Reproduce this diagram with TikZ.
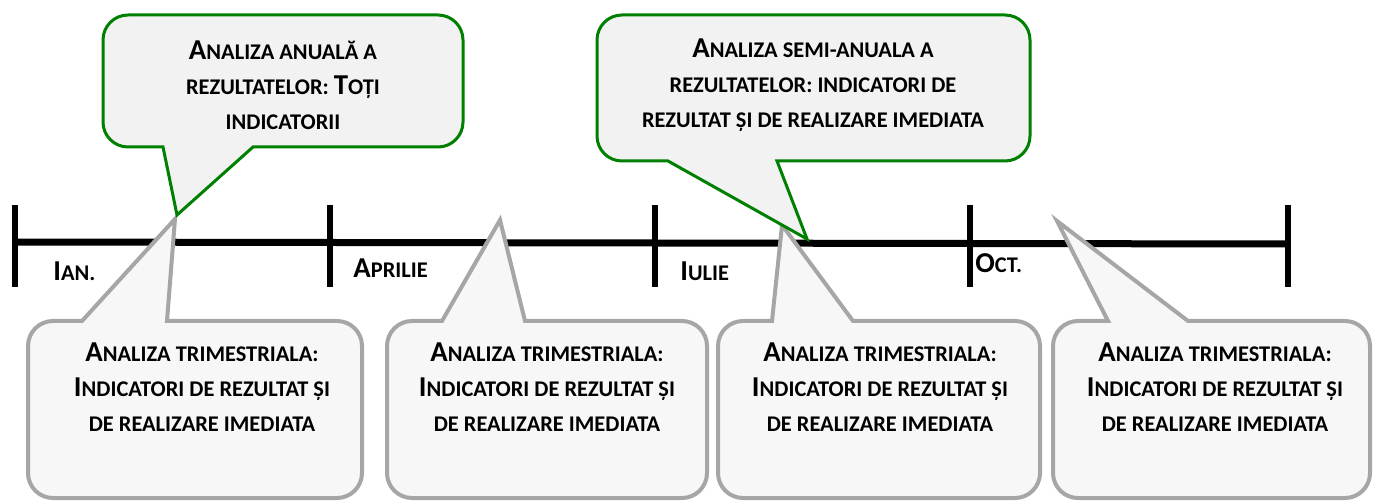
\documentclass[tikz,border=0pt]{standalone}
\usepackage{fontspec}
\setmainfont{Carlito}
\usetikzlibrary{calc}
\definecolor{boxgreen}{RGB}{0,128,0}
\definecolor{greenfill}{RGB}{242,242,242}
\definecolor{graystroke}{RGB}{166,166,166}
\definecolor{grayfill}{RGB}{247,247,247}
\newcommand{\Cap}[1]{{\fontsize{14.4}{17.5}\selectfont #1}} % big first letter
\newcommand{\calloutbelow}[8] % style, left, top, right, bottom, base left x, base right x, tip
{
	% box with the tail on its bottom edge
	\draw[#1] (#7,#5) [rounded corners=12.5pt] -- (#4,#5) -- (#4,#3) -- (#2,#3) -- (#2,#5)
		[sharp corners] -- (#6,#5) -- (#8) -- cycle;
}
\newcommand{\calloutabove}[8] % style, left, top, right, bottom, base left x, base right x, tip
{
	% box with the tail on its top edge
	\draw[#1] (#6,#3) [rounded corners=12.5pt] -- (#2,#3) -- (#2,#5) -- (#4,#5) -- (#4,#3)
		[sharp corners] -- (#7,#3) -- (#8) -- cycle;
}
\tikzset{
	greenbox/.style={draw=boxgreen, fill=greenfill, line width=1.5pt, line join=miter},
	graybox/.style={draw=graystroke, fill=grayfill, line width=2pt, line join=miter},
	txt/.style={font=\fontsize{11.2}{17.5}\selectfont\bfseries, align=center, inner sep=0pt},
	month/.style={font=\fontsize{11.2}{17.5}\selectfont\bfseries, inner sep=0pt, anchor=base west}
}
\begin{document}
\begin{tikzpicture}[x=0.5pt, y=-0.5pt]
	\useasboundingbox (0,0) rectangle (1374,501);
	% time line
	\coordinate (start) at (15,242);
	\coordinate (stop) at (1288,244);
	\draw[line width=3.5pt] (start) -- (stop);
	\foreach \x in {15,330,655,970,1288}
		\draw[line width=3pt] (\x,205) -- (\x,287);

	\node[month] (ian) at (53,281) {\Cap{I}AN.};
	\node[month] (apr) at (353,278) {\Cap{A}PRILIE};
	\node[month] (iul) at (680,281) {\Cap{I}ULIE};
	\node[month] (oct) at (975,273) {\Cap{O}CT.};

	% quarterly reviews
	\calloutabove{graybox}{28}{321}{362}{498}{82}{167}{175,219};
	\calloutabove{graybox}{387}{321}{707}{498}{442}{525}{500,220};
	\calloutabove{graybox}{718}{321}{1040}{498}{772}{853}{782,225};
	\calloutabove{graybox}{1053}{321}{1370}{498}{1108}{1188}{1057,221};

	\node[txt] (q1) at (202,387) {\Cap{A}NALIZA TRIMESTRIALA:\\\Cap{I}NDICATORI DE REZULTAT ȘI\\DE REALIZARE IMEDIATA};
	\node[txt] (q2) at (547,387) {\Cap{A}NALIZA TRIMESTRIALA:\\\Cap{I}NDICATORI DE REZULTAT ȘI\\DE REALIZARE IMEDIATA};
	\node[txt] (q3) at (880,387) {\Cap{A}NALIZA TRIMESTRIALA:\\\Cap{I}NDICATORI DE REZULTAT ȘI\\DE REALIZARE IMEDIATA};
	\node[txt] (q4) at (1215,387) {\Cap{A}NALIZA TRIMESTRIALA:\\\Cap{I}NDICATORI DE REZULTAT ȘI\\DE REALIZARE IMEDIATA};

	% annual and half-year reviews
	\calloutbelow{greenbox}{103}{15}{463}{147}{163}{253}{177,215};
	\calloutbelow{greenbox}{597}{15}{1030}{161}{668}{777}{807,239};

	\node[txt] (an) at (283,85) {\Cap{A}NALIZA ANUALĂ A\\REZULTATELOR: \Cap{T}OȚI\\INDICATORII};
	\node[txt] (sem) at (813,85) {\Cap{A}NALIZA SEMI-ANUALA A\\REZULTATELOR: INDICATORI DE\\REZULTAT ȘI DE REALIZARE IMEDIATA};
\end{tikzpicture}
\end{document}
